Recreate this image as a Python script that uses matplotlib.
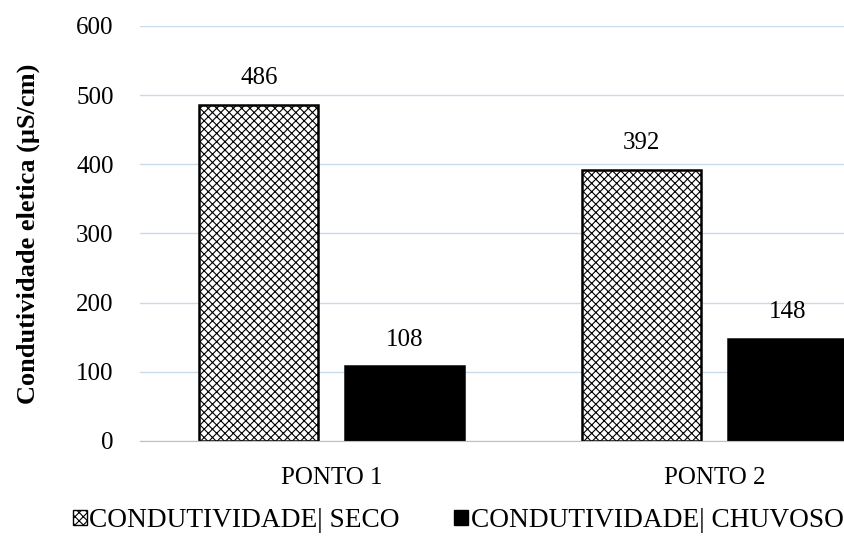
import matplotlib.pyplot as plt
from matplotlib.patches import Patch
import numpy as np

plt.rcParams['font.family'] = ['Liberation Serif', 'DejaVu Serif']
plt.rcParams['hatch.linewidth'] = 0.8

# Data
pontos = ["PONTO 1", "PONTO 2"]
seco = [486, 392]
chuvoso = [108, 148]
series_labels = ["CONDUTIVIDADE| SECO", "CONDUTIVIDADE| CHUVOSO"]

fig = plt.figure(figsize=(8.44, 5.39), dpi=100)
ax = fig.add_axes([0.166, 0.182, 0.834, 0.77])

x = np.arange(len(pontos))
w = 0.31
off = 0.19

b1 = ax.bar(x - off, seco, w, color="white", edgecolor="black", linewidth=1.8, hatch="xxxx")
b2 = ax.bar(x + off, chuvoso, w, color="black", edgecolor="black", linewidth=1.8)

for bars in (b1, b2):
    for r in bars:
        ax.annotate(f"{r.get_height():.0f}", (r.get_x() + r.get_width() / 2, r.get_height()),
                    xytext=(0, 11), textcoords="offset points", ha="center", va="bottom", fontsize=18)

ax.set_xlim(-0.5, 1.338)
ax.set_ylim(0, 600)
ax.set_yticks(range(0, 601, 100))
ax.set_xticks(x)
ax.set_xticklabels(pontos)
ax.tick_params(axis="both", length=0, labelsize=18)
ax.tick_params(axis="x", pad=19)
ax.tick_params(axis="y", pad=19)
ax.grid(axis="y", color="#c9dbeb", linewidth=1)
ax.set_axisbelow(True)
for s in ["top", "right", "left"]:
    ax.spines[s].set_visible(False)
ax.spines["bottom"].set_color("#bfbfbf")
ax.set_ylabel("Condutividade eletica (µS/cm)", fontsize=19, fontweight="bold", labelpad=26)

handles = [Patch(facecolor="white", edgecolor="black", hatch="xxxx", label=series_labels[0]),
           Patch(facecolor="black", edgecolor="black", label=series_labels[1])]
fig.legend(handles=handles, loc="lower center", bbox_to_anchor=(0.543, -0.035), ncol=2, frameon=False,
           fontsize=19.7, handlelength=0.5, handleheight=0.5, handletextpad=0.1, columnspacing=2.0)

plt.savefig("out.png", dpi=100)
